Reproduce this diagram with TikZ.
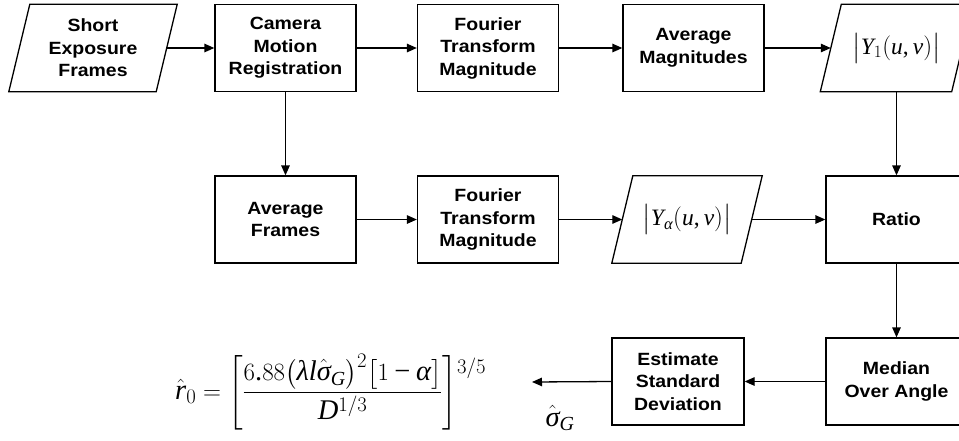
\documentclass[tikz,border=0pt]{standalone}
\usepackage{amsmath}
\usepackage{fontspec}
\usepackage{graphicx}
\newfontfamily\boxfont{Liberation Sans}[FakeStretch=1.1]
\newfontfamily\tmsfont{Liberation Serif}[NFSSFamily=libtms]
\DeclareSymbolFont{tit}{TU}{libtms}{m}{it}
\DeclareSymbolFont{trm}{TU}{libtms}{m}{n}
\Umathcode`r=0 \symtit `r
\Umathcode`l=0 \symtit `l
\Umathcode`u=0 \symtit `u
\Umathcode`v=0 \symtit `v
\Umathcode`Y=0 \symtit `Y
\Umathcode`D=0 \symtit `D
\Umathcode`G=0 \symtit `G
\Umathcode`0=0 \symtrm `0
\Umathcode`1=0 \symtrm `1
\Umathcode`2=0 \symtrm `2
\Umathcode`3=0 \symtrm `3
\Umathcode`5=0 \symtrm `5
\Umathcode`6=0 \symtrm `6
\Umathcode`8=0 \symtrm `8
\Umathcode`.=0 \symtrm `.
\Umathcode`/=0 \symtrm `/
\Umathcode`,=6 \symtrm `,
\Umathcode`(=4 \symtrm `(
\Umathcode`)=5 \symtrm `)
\Umathcode`==3 \symtrm `=
\Umathcode`-=2 \symtrm "2212
\Umathchardef\tlambda=0 \symtit "03BB
\Umathchardef\tsigma=0 \symtit "03C3
\Umathchardef\talpha=0 \symtit "03B1
\usetikzlibrary{arrows.meta}

\tikzset{
  blk/.style={draw, line width=1.3pt, minimum width=141pt, minimum height=87pt,
    inner sep=0pt, align=center, font=\boxfont\bfseries\fontsize{17.7}{22.5}\selectfont},
  para/.style={minimum height=87pt, inner sep=0pt, align=center},
  paratext/.style={font=\boxfont\bfseries\fontsize{17.7}{22.5}\selectfont},
  paramath/.style={font=\fontsize{23.5}{28}\selectfont},
  outline/.style={line width=1.3pt, line join=miter},
  conn/.style={line width=1.3pt, -{Triangle[length=10pt,width=8.5pt]}},
  eqfont/.style={font=\fontsize{28.5}{33}\selectfont, inner sep=0pt},
}

\begin{document}
\begin{tikzpicture}[x=1pt, y=-1pt]
  \useasboundingbox (0,0) rectangle (959,440);

  % row 1
  \node[para, paratext, minimum width=147pt] (short) at (93,48) {Short\\Exposure\\Frames};
  \node[blk] (camera) at (285.5,48) {Camera\\Motion\\Registration};
  \node[blk] (ft1) at (488,48) {Fourier\\Transform\\Magnitude};
  \node[blk] (avgmag) at (693.5,48) {Average\\Magnitudes};
  \node[para, paramath, minimum width=131pt] (y1) at (896.5,48) {$\bigl|Y_1(u,v)\bigr|$};

  % row 2
  \node[blk] (avgfr) at (285.5,219.5) {Average\\Frames};
  \node[blk] (ft2) at (488,219.5) {Fourier\\Transform\\Magnitude};
  \node[para, paramath, minimum width=129pt] (ya) at (687,219.5) {$\bigl|Y_{\talpha}(u,v)\bigr|$};
  \node[blk] (ratio) at (896.5,219.5) {Ratio};

  % row 3
  \node[blk, minimum width=132pt] (est) at (678,381.5) {Estimate\\Standard\\Deviation};
  \node[blk] (median) at (896.5,381.5) {Median\\Over Angle};

  % parallelogram outlines
  \foreach \n in {short,y1,ya}
    \draw[outline] ([xshift=-10.5pt]\n.south west) -- ([xshift=-10.5pt]\n.south east)
      -- ([xshift=10.5pt]\n.north east) -- ([xshift=10.5pt]\n.north west) -- cycle;

  % equation and estimate label
  \node[eqfont, anchor=base west] (eq) at (175,399)
    {$\displaystyle \hat r_0=\left[\frac{6.88\bigl(\tlambda l\hat\tsigma_G\bigr)^2\bigl[1-\talpha\bigr]}{D^{1/3}}\right]^{\raisebox{-0.4em}{$\scriptstyle 3/5$}}$};
  \node[eqfont] (sg) at (560,418) {$\hat\tsigma_G$};
  \coordinate (eqin) at (532,382);

  % connectors
  \draw[conn] (short.east) -- (camera.west);
  \draw[conn] (camera.east) -- (ft1.west);
  \draw[conn] (ft1.east) -- (avgmag.west);
  \draw[conn] (avgmag.east) -- (y1.west);
  \draw[conn] (camera.south) -- (avgfr.north);
  \draw[conn] (avgfr.east) -- (ft2.west);
  \draw[conn] (ft2.east) -- (ya.west);
  \draw[conn] (ya.east) -- (ratio.west);
  \draw[conn] (y1.south) -- (ratio.north);
  \draw[conn] (ratio.south) -- (median.north);
  \draw[conn] (median.west) -- (est.east);
  \draw[conn] (est.west) -- (eqin);
\end{tikzpicture}
\end{document}
